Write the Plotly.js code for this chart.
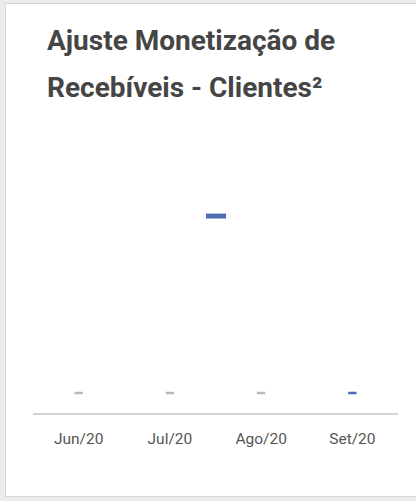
<!DOCTYPE html>
<html>
<head>
<meta charset="utf-8">
<script src="https://cdn.plot.ly/plotly-3.0.1.min.js"></script>
<style>
  html, body { margin: 0; padding: 0; width: 416px; height: 501px; background: #ebebeb; overflow: hidden; }
  #card { position: absolute; left: 5px; top: 3px; width: 410px; height: 492px; background: #ffffff; border: 1px solid #d6d6d6; border-right: none; }
  #chart { position: absolute; left: 0; top: 0; width: 410px; height: 492px; }
</style>
</head>
<body>
<div id="card"><div id="chart"></div></div>
<script>
// ---- data ----
const titleLines = ["Ajuste Monetização de", "Recebíveis - Clientes²"];
const categories = ["Jun/20", "Jul/20", "Ago/20", "Set/20"];
const values = [0, 0, 0, 0];
const labels = ["-", "-", "-", "-"];
const pointColors = ["#b8b8b8", "#b8b8b8", "#b8b8b8", "#4a6db3"];
const seriesColor = "#4a6db3";

const trace = {
  type: "scatter",
  mode: "markers",
  x: categories,
  y: values,
  text: labels,
  hoverinfo: "x+text",
  marker: {
    symbol: "line-ew",
    size: 6,
    color: pointColors,
    line: { width: 2.5, color: pointColors }
  },
  showlegend: false
};

const layout = {
  width: 410,
  height: 492,
  margin: { l: 27, r: 18, t: 149, b: 83 },
  paper_bgcolor: "rgba(0,0,0,0)",
  plot_bgcolor: "rgba(0,0,0,0)",
  font: { family: "Roboto, 'Open Sans', sans-serif", color: "#555555" },
  showlegend: false,
  xaxis: {
    type: "category",
    range: [-0.5, categories.length - 0.5],
    showgrid: false,
    zeroline: false,
    showline: true,
    linecolor: "#d3d3d3",
    linewidth: 2,
    ticks: "",
    ticklabelstandoff: 10,
    tickfont: { size: 15.5, color: "#555555", family: "Roboto, sans-serif" },
    fixedrange: true
  },
  yaxis: {
    range: [-1, 12],
    visible: false,
    showgrid: false,
    zeroline: false,
    fixedrange: true
  },
  shapes: [
    {
      type: "rect", xref: "paper", yref: "paper",
      x0: 0.474, x1: 0.529, y0: 0.748, y1: 0.767,
      fillcolor: seriesColor, line: { width: 0 }
    }
  ],
  annotations: [
    {
      text: "<b>" + titleLines[0] + "</b>",
      xref: "paper", yref: "paper", x: 0, y: 1,
      xanchor: "left", yanchor: "middle",
      xshift: 12, yshift: 113,
      showarrow: false,
      font: { family: "Roboto, sans-serif", size: 28, color: "#454545" }
    },
    {
      text: "<b>" + titleLines[1] + "</b>",
      xref: "paper", yref: "paper", x: 0, y: 1,
      xanchor: "left", yanchor: "middle",
      xshift: 12, yshift: 66,
      showarrow: false,
      font: { family: "Roboto, sans-serif", size: 28, color: "#454545" }
    }
  ]
};

Plotly.newPlot("chart", [trace], layout, { displayModeBar: false, staticPlot: false });
</script>
</body>
</html>
